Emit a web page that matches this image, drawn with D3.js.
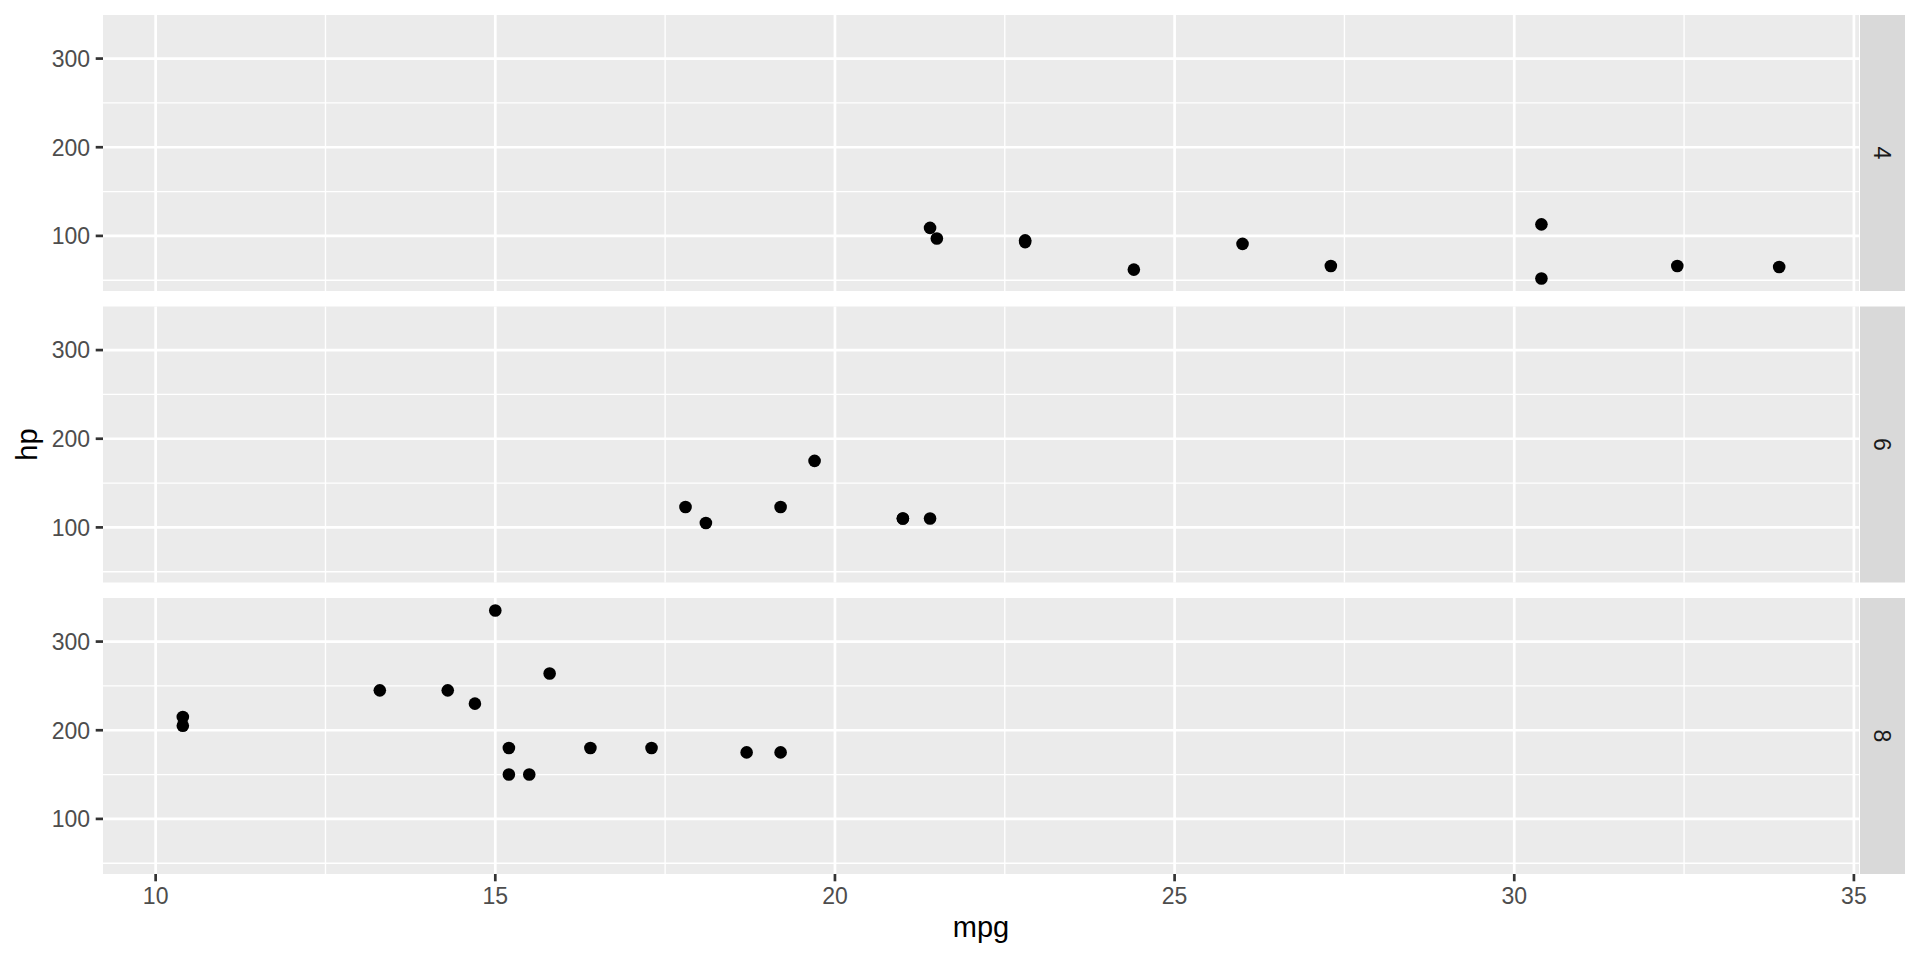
<!DOCTYPE html>
<html>
<head>
<meta charset="UTF-8">
<script src="https://d3js.org/d3.v7.min.js"></script>
<style>
    body { margin: 0; background: #fff; font-family: "Liberation Sans", Arial, sans-serif; }
    .tick-label { font-size: 23px; fill: #4D4D4D; }
    .axis-title { font-size: 29px; fill: #000; }
    .strip-label { font-size: 23px; fill: #1A1A1A; }
</style>
</head>
<body>
<div id="chart"></div>
<script>
// mtcars: mpg vs hp, faceted by cyl
const facets = ["4", "6", "8"];
const mpg4 = [22.8, 24.4, 22.8, 32.4, 30.4, 33.9, 21.5, 27.3, 26.0, 30.4, 21.4];
const hp4  = [93, 62, 95, 66, 52, 65, 97, 66, 91, 113, 109];
const mpg6 = [21.0, 21.0, 21.4, 18.1, 19.2, 17.8, 19.7];
const hp6  = [110, 110, 110, 105, 123, 123, 175];
const mpg8 = [18.7, 14.3, 16.4, 17.3, 15.2, 10.4, 10.4, 14.7, 15.5, 15.2, 13.3, 19.2, 15.8, 15.0];
const hp8  = [175, 245, 180, 180, 180, 205, 215, 230, 150, 150, 245, 175, 264, 335];
const xTicks = [10, 15, 20, 25, 30, 35];
const xMinor = [12.5, 17.5, 22.5, 27.5, 32.5];
const yTicks = [100, 200, 300];
const yMinor = [50, 150, 250];

const series = [
    {key: facets[0], mpg: mpg4, hp: hp4},
    {key: facets[1], mpg: mpg6, hp: hp6},
    {key: facets[2], mpg: mpg8, hp: hp8}
];

const W = 1920, H = 960;
const left = 103, right = 1859;
const top0 = 15, bottom = 874;
const gap = 15.5;
const panelH = (bottom - top0 - 2 * gap) / 3;
const stripX = 1860, stripW = 45;

const allMpg = mpg4.concat(mpg6, mpg8);
const allHp = hp4.concat(hp6, hp8);
const [mpgMin, mpgMax] = d3.extent(allMpg);
const [hpMin, hpMax] = d3.extent(allHp);
const xPad = (mpgMax - mpgMin) * 0.05, yPad = (hpMax - hpMin) * 0.05;

const x = d3.scaleLinear().domain([mpgMin - xPad, mpgMax + xPad]).range([left, right]);

const svg = d3.select("#chart").append("svg")
    .attr("width", W).attr("height", H);

series.forEach((s, i) => {
    const pt = top0 + i * (panelH + gap);
    const pb = pt + panelH;
    const y = d3.scaleLinear().domain([hpMin - yPad, hpMax + yPad]).range([pb, pt]);
    const g = svg.append("g");

    g.append("rect").attr("x", left).attr("y", pt)
        .attr("width", right - left).attr("height", panelH).attr("fill", "#EBEBEB");

    // minor grid
    g.selectAll(".vminor").data(xMinor).enter().append("line")
        .attr("x1", d => x(d)).attr("x2", d => x(d)).attr("y1", pt).attr("y2", pb)
        .attr("stroke", "#fff").attr("stroke-width", 1.35);
    g.selectAll(".hminor").data(yMinor.filter(d => y(d) >= pt && y(d) <= pb)).enter().append("line")
        .attr("x1", left).attr("x2", right).attr("y1", d => y(d)).attr("y2", d => y(d))
        .attr("stroke", "#fff").attr("stroke-width", 1.35);
    // major grid
    g.selectAll(".vmajor").data(xTicks).enter().append("line")
        .attr("x1", d => x(d)).attr("x2", d => x(d)).attr("y1", pt).attr("y2", pb)
        .attr("stroke", "#fff").attr("stroke-width", 2.7);
    g.selectAll(".hmajor").data(yTicks).enter().append("line")
        .attr("x1", left).attr("x2", right).attr("y1", d => y(d)).attr("y2", d => y(d))
        .attr("stroke", "#fff").attr("stroke-width", 2.7);

    // y ticks
    g.selectAll(".ytick").data(yTicks).enter().append("line")
        .attr("x1", left - 7.3).attr("x2", left).attr("y1", d => y(d)).attr("y2", d => y(d))
        .attr("stroke", "#333").attr("stroke-width", 2.7);
    g.selectAll(".ylab").data(yTicks).enter().append("text")
        .attr("class", "tick-label")
        .attr("x", left - 13).attr("y", d => y(d))
        .attr("dy", "0.36em").attr("text-anchor", "end")
        .text(d => d);

    // points
    g.selectAll("circle").data(s.mpg.map((m, j) => [m, s.hp[j]])).enter().append("circle")
        .attr("cx", d => x(d[0])).attr("cy", d => y(d[1]))
        .attr("r", 6.3).attr("fill", "#000");

    // strip
    g.append("rect").attr("x", stripX).attr("y", pt)
        .attr("width", stripW).attr("height", panelH).attr("fill", "#D9D9D9");
    g.append("text").attr("class", "strip-label")
        .attr("transform", `translate(${stripX + stripW / 2},${pt + panelH / 2}) rotate(90)`)
        .attr("text-anchor", "middle").attr("dy", "0.36em")
        .text(s.key);
});

// x axis
svg.selectAll(".xtick").data(xTicks).enter().append("line")
    .attr("x1", d => x(d)).attr("x2", d => x(d)).attr("y1", bottom).attr("y2", bottom + 7.3)
    .attr("stroke", "#333").attr("stroke-width", 2.7);
svg.selectAll(".xlab").data(xTicks).enter().append("text")
    .attr("class", "tick-label")
    .attr("x", d => x(d)).attr("y", bottom + 30)
    .attr("text-anchor", "middle")
    .text(d => d);

svg.append("text").attr("class", "axis-title")
    .attr("x", (left + right) / 2).attr("y", 937)
    .attr("text-anchor", "middle").text("mpg");
svg.append("text").attr("class", "axis-title")
    .attr("transform", `translate(37,${(top0 + bottom) / 2}) rotate(-90)`)
    .attr("text-anchor", "middle").text("hp");
</script>
</body>
</html>
